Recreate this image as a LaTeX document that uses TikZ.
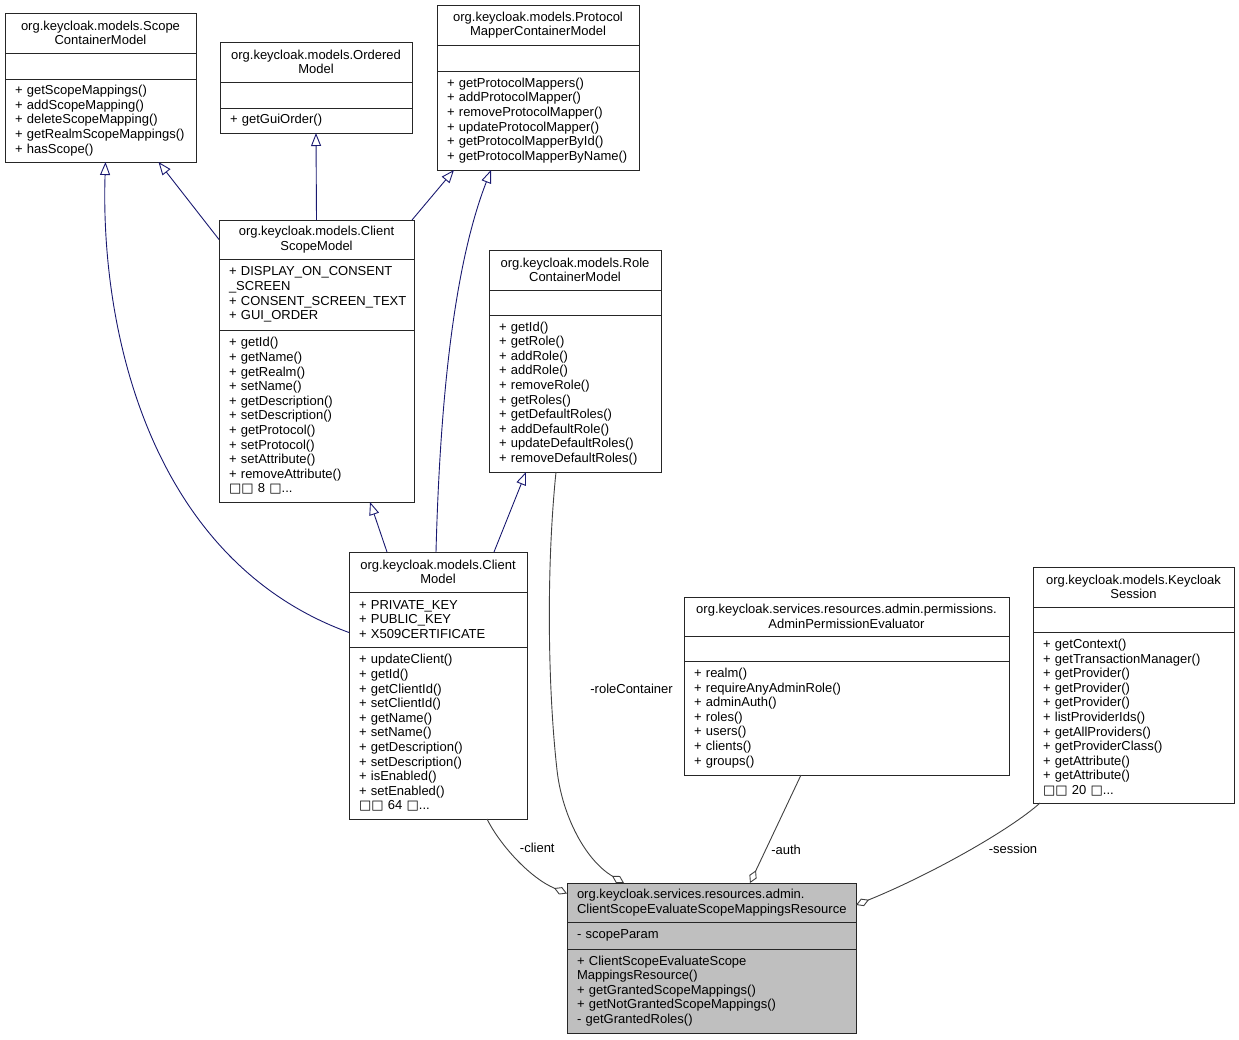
\documentclass[tikz,border=0pt]{standalone}
\usepackage{fontspec}
\setmainfont{Liberation Sans}
\newfontfamily\glyphfont{DejaVu Sans}
\usetikzlibrary{positioning,arrows.meta}

\definecolor{edgenavy}{HTML}{191970}
\definecolor{edgegray}{HTML}{404040}
\definecolor{mainfill}{HTML}{BFBFBF}
\newcommand\umlfont{\fontsize{13}{14.6}\selectfont\hyphenpenalty=10000\exhyphenpenalty=10000}
\newcommand\tofu{{\glyphfont □}}

\tikzset{
  umlbox/.style={draw=black!85, line width=0.9pt, fill=white, inner xsep=10pt,
    inner ysep=0pt, outer sep=0pt, font=\umlfont, anchor=north west},
  umltitle/.style={umlbox, align=center},
  umlpart/.style={umlbox, align=left},
  inherit/.style={draw=edgenavy, line width=0.9pt,
    -{Triangle[open, length=13pt, width=10pt]}},
  aggr/.style={draw=edgegray, line width=0.9pt,
    -{Diamond[open, length=14pt, width=8pt]}},
  lbl/.style={font=\umlfont, inner sep=1pt},
}

\begin{document}
\begin{tikzpicture}[x=1pt, y=-1pt]
\useasboundingbox (0,0) rectangle (1239,1039);

% ScopeContainerModel
\node[umltitle, text width=171pt, minimum height=40pt] (scmT) at (5,13)
  {org.keycloak.models.Scope\\ContainerModel};
\node[umlpart, text width=171pt, minimum height=26pt, below=0pt of scmT] (scmA) {};
\node[umlpart, text width=171pt, minimum height=83pt, below=0pt of scmA] (scmM)
  {+~getScopeMappings()\\+~addScopeMapping()\\+~deleteScopeMapping()\\
   +~getRealmScopeMappings()\\+~hasScope()};

% OrderedModel
\node[umltitle, text width=172pt, minimum height=40pt] (omT) at (220,42)
  {org.keycloak.models.Ordered\\Model};
\node[umlpart, text width=172pt, minimum height=26pt, below=0pt of omT] (omA) {};
\node[umlpart, text width=172pt, minimum height=25pt, below=0pt of omA] (omM)
  {+~getGuiOrder()};

% ProtocolMapperContainerModel
\node[umltitle, text width=182pt, minimum height=40pt] (pmcmT) at (437,5)
  {org.keycloak.models.Protocol\\MapperContainerModel};
\node[umlpart, text width=182pt, minimum height=26pt, below=0pt of pmcmT] (pmcmA) {};
\node[umlpart, text width=182pt, minimum height=99pt, below=0pt of pmcmA] (pmcmM)
  {+~getProtocolMappers()\\+~addProtocolMapper()\\+~removeProtocolMapper()\\
   +~updateProtocolMapper()\\+~getProtocolMapperById()\\+~getProtocolMapperByName()};

% RoleContainerModel
\node[umltitle, text width=152pt, minimum height=40pt] (rcmT) at (489,250)
  {org.keycloak.models.Role\\ContainerModel};
\node[umlpart, text width=152pt, minimum height=25pt, below=0pt of rcmT] (rcmA) {};
\node[umlpart, text width=152pt, minimum height=157pt, below=0pt of rcmA] (rcmM)
  {+~getId()\\+~getRole()\\+~addRole()\\+~addRole()\\+~removeRole()\\+~getRoles()\\
   +~getDefaultRoles()\\+~addDefaultRole()\\+~updateDefaultRoles()\\+~removeDefaultRoles()};

% ClientScopeModel
\node[umltitle, text width=175pt, minimum height=39pt] (csmT) at (219,220)
  {org.keycloak.models.Client\\ScopeModel};
\node[umlpart, text width=175pt, minimum height=71pt, below=0pt of csmT] (csmA)
  {+~DISPLAY\_ON\_CONSENT\\\_SCREEN\\+~CONSENT\_SCREEN\_TEXT\\+~GUI\_ORDER};
\node[umlpart, text width=175pt, minimum height=172pt, below=0pt of csmA] (csmM)
  {+~getId()\\+~getName()\\+~getRealm()\\+~setName()\\+~getDescription()\\
   +~setDescription()\\+~getProtocol()\\+~setProtocol()\\+~setAttribute()\\
   +~removeAttribute()\\\tofu\tofu{} 8 \tofu...};

% ClientModel
\node[umltitle, text width=158pt, minimum height=40pt] (cmT) at (349,552)
  {org.keycloak.models.Client\\Model};
\node[umlpart, text width=158pt, minimum height=55pt, below=0pt of cmT] (cmA)
  {+~PRIVATE\_KEY\\+~PUBLIC\_KEY\\+~X509CERTIFICATE};
\node[umlpart, text width=158pt, minimum height=172pt, below=0pt of cmA] (cmM)
  {+~updateClient()\\+~getId()\\+~getClientId()\\+~setClientId()\\+~getName()\\
   +~setName()\\+~getDescription()\\+~setDescription()\\+~isEnabled()\\
   +~setEnabled()\\\tofu\tofu{} 64 \tofu...};

% AdminPermissionEvaluator
\node[umltitle, text width=305pt, minimum height=39pt] (apeT) at (684,597)
  {org.keycloak.services.resources.admin.permissions.\\AdminPermissionEvaluator};
\node[umlpart, text width=305pt, minimum height=25pt, below=0pt of apeT] (apeA) {};
\node[umlpart, text width=305pt, minimum height=114pt, below=0pt of apeA] (apeM)
  {+~realm()\\+~requireAnyAdminRole()\\+~adminAuth()\\+~roles()\\+~users()\\
   +~clients()\\+~groups()};

% KeycloakSession
\node[umltitle, text width=181pt, minimum height=40pt] (ksT) at (1033,567)
  {org.keycloak.models.Keycloak\\Session};
\node[umlpart, text width=181pt, minimum height=25pt, below=0pt of ksT] (ksA) {};
\node[umlpart, text width=181pt, minimum height=171pt, below=0pt of ksA] (ksM)
  {+~getContext()\\+~getTransactionManager()\\+~getProvider()\\+~getProvider()\\
   +~getProvider()\\+~listProviderIds()\\+~getAllProviders()\\+~getProviderClass()\\
   +~getAttribute()\\+~getAttribute()\\\tofu\tofu{} 20 \tofu...};

% ClientScopeEvaluateScopeMappingsResource
\node[umlpart, fill=mainfill, text width=269pt, minimum height=39pt] (mainT) at (567,883)
  {org.keycloak.services.resources.admin.\\ClientScopeEvaluateScopeMappingsResource};
\node[umlpart, fill=mainfill, text width=269pt, minimum height=27pt, below=0pt of mainT] (mainA)
  {-~scopeParam};
\node[umlpart, fill=mainfill, text width=269pt, minimum height=84pt, below=0pt of mainA] (mainM)
  {+~ClientScopeEvaluateScope\\MappingsResource()\\+~getGrantedScopeMappings()\\
   +~getNotGrantedScopeMappings()\\-~getGrantedRoles()};

% inheritance
\draw[inherit] (csmT.west) -- ([xshift=58pt]scmM.south);
\draw[inherit] (csmT.north) -- (omM.south);
\draw[inherit] ([xshift=-2pt]csmT.north east) -- ([xshift=-84pt]pmcmM.south);
\draw[inherit] ([yshift=-13pt]cmA.west) .. controls (150,560) and (100,330)
  .. ([xshift=5pt]scmM.south);
\draw[inherit] ([xshift=-2pt]cmT.north) .. controls (440,400) and (454,265)
  .. ([xshift=-47pt]pmcmM.south);
\draw[inherit] ([xshift=-51pt]cmT.north) -- ([xshift=53.5pt]csmM.south);
\draw[inherit] ([xshift=56pt]cmT.north) -- ([xshift=-49pt]rcmM.south);

% members
\draw[aggr] ([xshift=49pt]cmM.south) .. controls (500,845) and (530,878)
  .. node[lbl, pos=0.35, right=12pt] {-client} ([yshift=9pt]mainT.west);
\draw[aggr] ([xshift=-19pt]rcmM.south) .. controls (546,570) and (548,690)
  .. node[lbl, pos=0.7, right=38pt] {-roleContainer} (557,770)
  .. controls (562,815) and (585,860) .. ([xshift=-87.5pt]mainT.north);
\draw[aggr] ([xshift=-45.5pt]apeM.south) -- node[lbl, pos=0.69, right=4pt] {-auth}
  ([xshift=38.5pt]mainT.north);
\draw[aggr] ([xshift=-93.5pt]ksM.south) .. controls (1010,830) and (930,875)
  .. node[lbl, pos=0.3, anchor=north, xshift=12pt, yshift=-11pt] {-session}
  ([yshift=-2.5pt]mainT.east);
\end{tikzpicture}
\end{document}
